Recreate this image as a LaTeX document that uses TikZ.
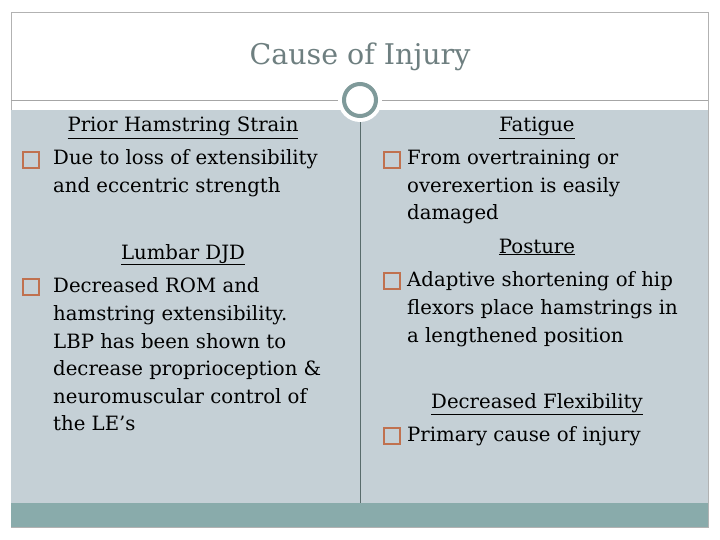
\documentclass[tikz,border=0pt]{standalone}
\usepackage{fontspec}
\setmainfont{DejaVu Serif}
\begin{document}
\begin{tikzpicture}[x=1pt,y=-1pt,
  txt/.style={anchor=west,inner sep=0pt,text height=14pt,text depth=4pt,font=\fontsize{19.7}{23}\selectfont,text=black},
  head/.style={anchor=center,inner sep=0pt,text height=14pt,text depth=4pt,font=\fontsize{19.7}{23}\selectfont,text=black},
  box/.style={draw=boxc,line width=1.4pt,minimum size=16pt,inner sep=0pt}]
\definecolor{bodyc}{HTML}{C5D0D6}
\definecolor{barc}{HTML}{89ABAB}
\definecolor{ringc}{HTML}{7F9A9A}
\definecolor{boxc}{HTML}{C0714F}
\definecolor{titc}{HTML}{6E7F80}
\useasboundingbox (0,0) rectangle (720,540);
\fill[white] (0,0) rectangle (720,540);
\draw[gray!60] (11,12) rectangle (708,527);
\fill[bodyc] (11,110) rectangle (708,503);
\fill[barc] (11,503) rectangle (708,527);
\draw[gray!70,line width=0.8pt] (11,100) -- (708,100);
\draw[ringc!70!black,line width=0.6pt] (360,118) -- (360,503);
\fill[white] (360,100) circle (22);
\node[circle,draw=ringc,line width=4pt,fill=white,minimum size=32pt] (ring) at (360,100) {};
\node[inner sep=0pt,font=\fontsize{28.5}{32}\selectfont,text=titc] (title) at (360,57) {Cause of Injury};
% left
\node[head] (h1) at (183,127) {\underline{Prior Hamstring Strain}};
\node[box] (b1) at (31,160) {};
\node[txt] (l1) at (53,160) {Due to loss of extensibility};
\node[txt] (l2) at (53,188) {and eccentric strength};
\node[head] (h2) at (183,254) {\underline{Lumbar DJD}};
\node[box] (b2) at (31,287) {};
\node[txt] (l3) at (53,287) {Decreased ROM and};
\node[txt] (l4) at (53,315) {hamstring extensibility.};
\node[txt] (l5) at (53,343) {LBP has been shown to};
\node[txt] (l6) at (53,370) {decrease proprioception \&};
\node[txt] (l7) at (53,398) {neuromuscular control of};
\node[txt] (l8) at (53,425) {the LE’s};
% right
\node[head] (h3) at (537,127) {\underline{Fatigue}};
\node[box] (b3) at (392,160) {};
\node[txt] (r1) at (407,160) {From overtraining or};
\node[txt] (r2) at (407,188) {overexertion is easily};
\node[txt] (r3) at (407,215) {damaged};
\node[head] (h4) at (537,248) {\underline{Posture}};
\node[box] (b4) at (392,281) {};
\node[txt] (r4) at (407,281) {Adaptive shortening of hip};
\node[txt] (r5) at (407,309) {flexors place hamstrings in};
\node[txt] (r6) at (407,337) {a lengthened position};
\node[head] (h5) at (537,403) {\underline{Decreased Flexibility}};
\node[box] (b5) at (392,436) {};
\node[txt] (r7) at (407,436) {Primary cause of injury};
\end{tikzpicture}
\end{document}
